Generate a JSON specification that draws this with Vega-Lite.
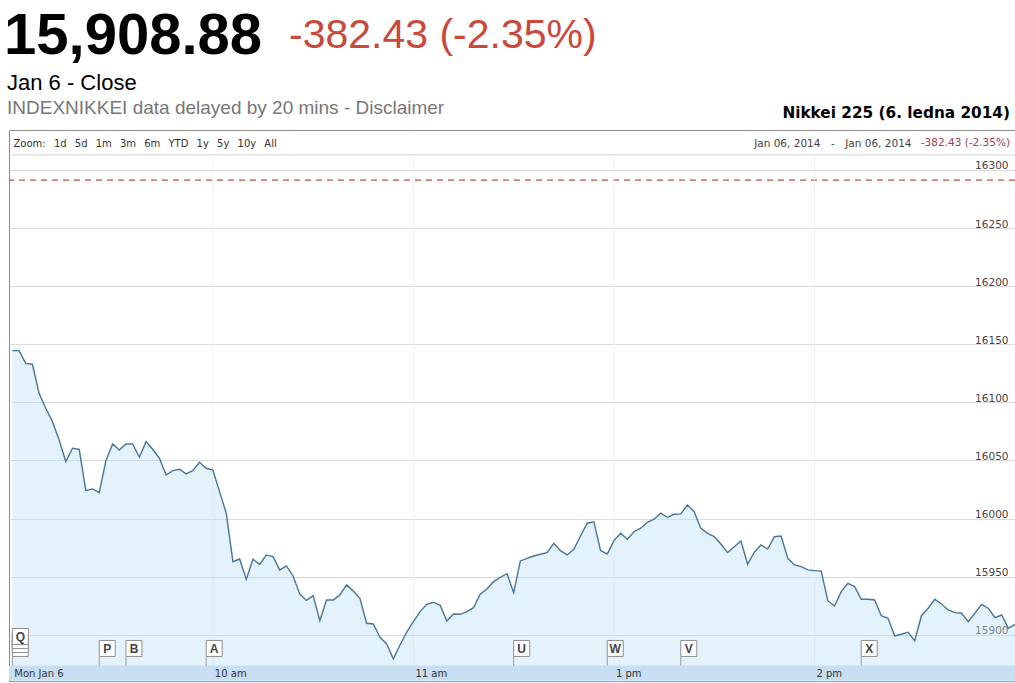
{
  "$schema": "https://vega.github.io/schema/vega-lite/v6.json",
  "background": "#ffffff",
  "padding": {"left": 4, "top": 2, "right": 2, "bottom": 0},
  "spacing": 0,
  "config": {
    "view": {"stroke": null},
    "title": {"frame": "group", "anchor": "start"},
    "concat": {"spacing": 0}
  },
  "datasets": {
    "prices": [
      {"t": 0, "price": 16144.5}, {"t": 2, "price": 16144.5}, {"t": 4, "price": 16133.6}, {"t": 6, "price": 16132.8},
      {"t": 8, "price": 16107.8}, {"t": 10, "price": 16094.9}, {"t": 12, "price": 16083.4}, {"t": 14, "price": 16067.6},
      {"t": 16, "price": 16049.0}, {"t": 18, "price": 16060.5}, {"t": 20, "price": 16059.6}, {"t": 22, "price": 16024.0},
      {"t": 24, "price": 16025.5}, {"t": 26, "price": 16022.3}, {"t": 28, "price": 16049.8}, {"t": 30, "price": 16064.2},
      {"t": 32, "price": 16059.0}, {"t": 34, "price": 16064.2}, {"t": 36, "price": 16064.2}, {"t": 38, "price": 16052.8},
      {"t": 40, "price": 16066.2}, {"t": 42, "price": 16059.6}, {"t": 44, "price": 16051.9}, {"t": 46, "price": 16037.5},
      {"t": 48, "price": 16041.2}, {"t": 50, "price": 16042.4}, {"t": 52, "price": 16038.4}, {"t": 54, "price": 16041.2},
      {"t": 56, "price": 16048.4}, {"t": 58, "price": 16043.3}, {"t": 60, "price": 16041.8}, {"t": 62, "price": 16023.2},
      {"t": 64, "price": 16004.6}, {"t": 66, "price": 15962.9}, {"t": 68, "price": 15965.2}, {"t": 70, "price": 15947.8},
      {"t": 72, "price": 15965.0}, {"t": 74, "price": 15960.5}, {"t": 76, "price": 15968.7}, {"t": 78, "price": 15967.2},
      {"t": 80, "price": 15955.8}, {"t": 82, "price": 15959.2}, {"t": 84, "price": 15950.6}, {"t": 86, "price": 15934.9},
      {"t": 88, "price": 15929.7}, {"t": 90, "price": 15933.7}, {"t": 92, "price": 15912.1}, {"t": 94, "price": 15929.9},
      {"t": 96, "price": 15929.9}, {"t": 98, "price": 15934.3}, {"t": 100, "price": 15942.9}, {"t": 102, "price": 15937.7},
      {"t": 104, "price": 15931.4}, {"t": 106, "price": 15909.9}, {"t": 108, "price": 15909.3}, {"t": 110, "price": 15897.8},
      {"t": 112, "price": 15892.1}, {"t": 114, "price": 15879.2}, {"t": 116, "price": 15891.2}, {"t": 118, "price": 15902.2},
      {"t": 120, "price": 15911.3}, {"t": 122, "price": 15919.9}, {"t": 124, "price": 15926.2}, {"t": 126, "price": 15928.0},
      {"t": 128, "price": 15925.4}, {"t": 130, "price": 15911.9}, {"t": 132, "price": 15917.9}, {"t": 134, "price": 15917.6},
      {"t": 136, "price": 15919.9}, {"t": 138, "price": 15923.3}, {"t": 140, "price": 15934.9}, {"t": 142, "price": 15939.4},
      {"t": 144, "price": 15945.7}, {"t": 146, "price": 15949.5}, {"t": 148, "price": 15952.6}, {"t": 150, "price": 15936.2},
      {"t": 152, "price": 15963.5}, {"t": 154, "price": 15965.8}, {"t": 156, "price": 15967.8}, {"t": 158, "price": 15969.3},
      {"t": 160, "price": 15970.7}, {"t": 162, "price": 15978.7}, {"t": 164, "price": 15972.4}, {"t": 166, "price": 15968.7},
      {"t": 168, "price": 15973.6}, {"t": 170, "price": 15985.0}, {"t": 172, "price": 15996.0}, {"t": 174, "price": 15997.1},
      {"t": 176, "price": 15972.4}, {"t": 178, "price": 15969.5}, {"t": 180, "price": 15981.0}, {"t": 182, "price": 15987.3},
      {"t": 184, "price": 15982.2}, {"t": 186, "price": 15988.7}, {"t": 188, "price": 15991.7}, {"t": 190, "price": 15996.8},
      {"t": 192, "price": 15999.4}, {"t": 194, "price": 16004.6}, {"t": 196, "price": 16001.1}, {"t": 198, "price": 16003.7},
      {"t": 200, "price": 16004.0}, {"t": 202, "price": 16011.7}, {"t": 204, "price": 16005.9}, {"t": 206, "price": 15991.7},
      {"t": 208, "price": 15987.3}, {"t": 210, "price": 15984.4}, {"t": 212, "price": 15978.1}, {"t": 214, "price": 15970.7},
      {"t": 216, "price": 15975.8}, {"t": 218, "price": 15980.7}, {"t": 220, "price": 15960.7}, {"t": 222, "price": 15971.0},
      {"t": 224, "price": 15977.3}, {"t": 226, "price": 15973.8}, {"t": 228, "price": 15984.4}, {"t": 230, "price": 15985.0},
      {"t": 232, "price": 15965.8}, {"t": 234, "price": 15960.1}, {"t": 236, "price": 15958.6}, {"t": 238, "price": 15955.8},
      {"t": 240, "price": 15955.2}, {"t": 242, "price": 15954.9}, {"t": 244, "price": 15929.3}, {"t": 246, "price": 15924.8},
      {"t": 248, "price": 15937.1}, {"t": 250, "price": 15944.3}, {"t": 252, "price": 15941.4}, {"t": 254, "price": 15930.5},
      {"t": 256, "price": 15930.5}, {"t": 258, "price": 15929.9}, {"t": 260, "price": 15916.4}, {"t": 262, "price": 15914.2},
      {"t": 264, "price": 15898.9}, {"t": 266, "price": 15900.4}, {"t": 268, "price": 15902.2}, {"t": 270, "price": 15894.9},
      {"t": 272, "price": 15916.4}, {"t": 274, "price": 15922.8}, {"t": 276, "price": 15930.5}, {"t": 278, "price": 15926.5},
      {"t": 280, "price": 15921.3}, {"t": 282, "price": 15919.0}, {"t": 284, "price": 15918.5}, {"t": 286, "price": 15911.3},
      {"t": 288, "price": 15918.5}, {"t": 290, "price": 15926.2}, {"t": 292, "price": 15922.8}, {"t": 294, "price": 15914.7},
      {"t": 296, "price": 15917.0}, {"t": 298, "price": 15905.6}, {"t": 300, "price": 15908.88}
    ],
    "flags": [
      {"t": 0, "flag": "Q"}, {"t": 26, "flag": "P"}, {"t": 34, "flag": "B"}, {"t": 58, "flag": "A"},
      {"t": 150, "flag": "U"}, {"t": 178, "flag": "W"}, {"t": 200, "flag": "V"}, {"t": 254, "flag": "X"}
    ],
    "hours": [{"t": 60}, {"t": 120}, {"t": 180}, {"t": 240}],
    "reference": [{"prev_close": 16291.31}]
  },
  "vconcat": [
    {
      "hconcat": [
        {
          "width": 285, "height": 67,
          "data": {"values": []}, "mark": "rule", "encoding": {},
          "title": {"text": "15,908.88", "font": "Liberation Sans", "fontSize": 58, "fontWeight": "bold", "color": "#000000", "offset": -64, "dx": 0}
        },
        {
          "width": 724, "height": 67,
          "data": {"values": []}, "mark": "rule", "encoding": {},
          "title": {"text": "-382.43 (-2.35%)", "font": "Liberation Sans", "fontSize": 41, "fontWeight": "normal", "color": "#c9493c", "offset": -54.6, "dx": 0}
        }
      ]
    },
    {
      "hconcat": [
        {
          "width": 703, "height": 60,
          "data": {"values": []}, "mark": "rule", "encoding": {},
          "title": {
            "text": "Jan 6 - Close", "font": "Liberation Sans", "fontSize": 22, "fontWeight": "normal", "color": "#000000",
            "subtitle": "INDEXNIKKEI data delayed by 20 mins - Disclaimer", "subtitleFont": "Liberation Sans", "subtitleFontSize": 19,
            "subtitleColor": "#777777", "subtitleFontWeight": "normal", "subtitlePadding": 4.4, "offset": -50, "dx": 3
          }
        },
        {
          "width": 306, "height": 60,
          "data": {"values": []}, "mark": "rule", "encoding": {},
          "title": {"text": "Nikkei 225 (6. ledna 2014)", "anchor": "end", "font": "DejaVu Sans", "fontSize": 15.3, "fontWeight": "bold", "color": "#000000", "offset": -52.2, "dx": -3}
        }
      ]
    },
    {
      "hconcat": [
        {"width": 3, "height": 551, "data": {"values": []}, "mark": "rule", "encoding": {}},
        {
          "width": 1006, "height": 551,
          "view": {"stroke": "#8a8a8a", "strokeWidth": 1, "fill": "#ffffff"},
          "title": {"text": "-382.43 (-2.35%)", "anchor": "end", "offset": -18.5, "dx": -5, "font": "DejaVu Sans", "fontSize": 10.5, "fontWeight": "normal", "color": "#a63a55"},
          "layer": [
            {
              "data": {"values": [{}]},
              "mark": {"type": "rule", "color": "#d4d4d4", "strokeWidth": 1},
              "encoding": {"y": {"datum": 16313, "type": "quantitative"}}
            },
            {
              "data": {"name": "reference"},
              "mark": {"type": "rule", "color": "#b5534c", "strokeWidth": 1.2, "strokeDash": [6, 5]},
              "encoding": {"y": {"field": "prev_close", "type": "quantitative"}}
            },
            {
              "encoding": {
                "x": {
                  "field": "t", "type": "quantitative",
                  "scale": {"domain": [-1, 300], "nice": false, "zero": false},
                  "axis": {
                    "orient": "bottom", "offset": -8, "values": [0, 60, 120, 180, 240],
                    "labelExpr": "datum.value == 0 ? 'Mon Jan 6' : datum.value == 60 ? '10 am' : datum.value == 120 ? '11 am' : datum.value == 180 ? '1 pm' : '2 pm'",
                    "labelAlign": "left", "labelBaseline": "middle", "labelPadding": 0, "labelOffset": 1.5,
                    "labelFont": "DejaVu Sans", "labelFontSize": 10, "labelColor": "#333333",
                    "labelFlush": false, "labelOverlap": false, "labelBound": false,
                    "ticks": false, "tickSize": 0, "grid": false, "domain": false,
                    "title": "Zoom:\u2002 1d\u2002 5d\u2002 1m\u2002 3m\u2002 6m\u2002 YTD\u2002 1y\u2002 5y\u2002 10y\u2002 All",
                    "titleX": 4, "titleY": -530, "titleAlign": "left", "titleBaseline": "middle", "titleAngle": 0,
                    "titleFont": "DejaVu Sans", "titleFontSize": 10, "titleFontWeight": "normal", "titleColor": "#333333",
                    "zindex": 1
                  }
                }
              },
              "layer": [
                {
                  "data": {"name": "hours"},
                  "mark": {"type": "rule", "color": "#efefef", "strokeWidth": 1},
                  "encoding": {"y": {"datum": 16313, "type": "quantitative"}, "y2": {"datum": 15873.6}}
                },
                {
                  "data": {"name": "prices"},
                  "mark": {"type": "area", "color": "#bfe2f6", "fillOpacity": 0.42},
                  "encoding": {
                    "y": {
                      "field": "price", "type": "quantitative",
                      "scale": {"domain": [15860.2, 16334.4], "nice": false, "zero": false},
                      "axis": {
                        "orient": "right", "values": [15900, 15950, 16000, 16050, 16100, 16150, 16200, 16250, 16300], "format": "d",
                        "grid": true, "gridColor": "#dadada", "gridWidth": 1,
                        "domain": false, "ticks": false, "tickSize": 0,
                        "labelAlign": "right", "labelPadding": -7, "labelBaseline": "alphabetic", "labelOffset": -1,
                        "labelFont": "DejaVu Sans", "labelFontSize": 10.5, "labelColor": "#444444",
                        "title": "Jan 06, 2014\u2002\u2002-\u2002\u2002Jan 06, 2014",
                        "titleAngle": 0, "titleAlign": "right", "titleBaseline": "middle", "titleX": -104, "titleY": 13,
                        "titleFont": "DejaVu Sans", "titleFontSize": 10.5, "titleFontWeight": "normal", "titleColor": "#444444"
                      }
                    }
                  }
                },
                {
                  "data": {"name": "prices"},
                  "mark": {"type": "line", "color": "#48759b", "strokeWidth": 1.4},
                  "encoding": {"y": {"field": "price", "type": "quantitative"}}
                },
                {
                  "data": {"name": "flags"},
                  "mark": {"type": "rule", "color": "#9a9a9a", "strokeWidth": 1},
                  "encoding": {"y": {"datum": 15881, "type": "quantitative"}, "y2": {"datum": 15861}}
                },
                {
                  "data": {"name": "flags"},
                  "transform": [{"filter": "datum.flag == 'Q'"}],
                  "mark": {"type": "point", "shape": "square", "size": 256, "filled": true, "fill": "#ffffff", "stroke": "#8f8f8f", "strokeWidth": 1, "opacity": 1, "xOffset": 8},
                  "encoding": {"y": {"datum": 15888.2, "type": "quantitative"}}
                },
                {
                  "data": {"name": "flags"},
                  "transform": [{"filter": "datum.flag == 'Q'"}],
                  "mark": {"type": "point", "shape": "square", "size": 256, "filled": true, "fill": "#ffffff", "stroke": "#8f8f8f", "strokeWidth": 1, "opacity": 1, "xOffset": 8},
                  "encoding": {"y": {"datum": 15891.6, "type": "quantitative"}}
                },
                {
                  "data": {"name": "flags"},
                  "transform": [{"filter": "datum.flag == 'Q'"}],
                  "mark": {"type": "point", "shape": "square", "size": 256, "filled": true, "fill": "#ffffff", "stroke": "#8f8f8f", "strokeWidth": 1, "opacity": 1, "xOffset": 8},
                  "encoding": {"y": {"datum": 15895.0, "type": "quantitative"}}
                },
                {
                  "data": {"name": "flags"},
                  "transform": [{"filter": "datum.flag == 'Q'"}],
                  "mark": {"type": "point", "shape": "square", "size": 256, "filled": true, "fill": "#ffffff", "stroke": "#8f8f8f", "strokeWidth": 1, "opacity": 1, "xOffset": 8},
                  "encoding": {"y": {"datum": 15898.5, "type": "quantitative"}}
                },
                {
                  "data": {"name": "flags"},
                  "transform": [{"filter": "datum.flag != 'Q'"}],
                  "mark": {"type": "point", "shape": "square", "size": 256, "filled": true, "fill": "#ffffff", "stroke": "#8f8f8f", "strokeWidth": 1, "opacity": 1, "xOffset": 8},
                  "encoding": {"y": {"datum": 15888.2, "type": "quantitative"}}
                },
                {
                  "data": {"name": "flags"},
                  "transform": [{"filter": "datum.flag == 'Q'"}],
                  "mark": {"type": "text", "font": "Liberation Sans", "fontSize": 12, "fontWeight": "bold", "color": "#444444", "align": "center", "baseline": "middle", "xOffset": 8, "dy": 0.5},
                  "encoding": {"y": {"datum": 15898.5, "type": "quantitative"}, "text": {"field": "flag", "type": "nominal"}}
                },
                {
                  "data": {"name": "flags"},
                  "transform": [{"filter": "datum.flag != 'Q'"}],
                  "mark": {"type": "text", "font": "Liberation Sans", "fontSize": 12, "fontWeight": "bold", "color": "#444444", "align": "center", "baseline": "middle", "xOffset": 8, "dy": 0.5},
                  "encoding": {"y": {"datum": 15888.2, "type": "quantitative"}, "text": {"field": "flag", "type": "nominal"}}
                }
              ]
            },
            {
              "data": {"values": [{}]},
              "mark": {"type": "rect", "color": "#c8def3", "opacity": 1},
              "encoding": {"y": {"datum": 15873.6, "type": "quantitative"}, "y2": {"datum": 15860.7}}
            }
          ]
        }
      ]
    }
  ]
}
